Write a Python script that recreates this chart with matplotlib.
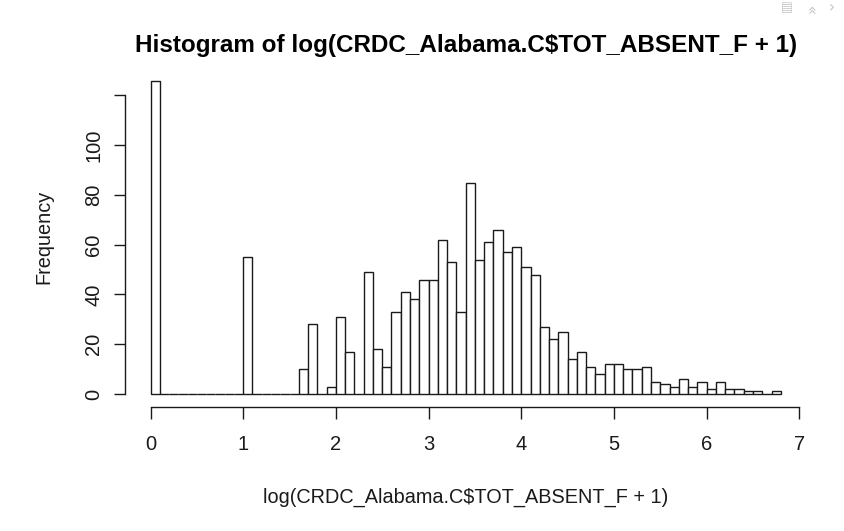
import matplotlib
matplotlib.use("Agg")
import matplotlib.pyplot as plt
import numpy as np

# histogram breaks (width 0.1) and counts
bin_start = 0.0
bin_width = 0.1
counts = [126, 0, 0, 0, 0, 0, 0, 0, 0, 0,
          55, 0, 0, 0, 0, 0, 10, 28, 0, 3,
          31, 17, 0, 49, 18, 11, 33, 41, 38, 46,
          46, 62, 53, 33, 85, 54, 61, 66, 57, 59,
          51, 48, 27, 22, 25, 14, 17, 11, 8, 12,
          12, 10, 10, 11, 5, 4, 3, 6, 3, 5,
          2, 5, 2, 2, 1, 1, 0, 1]
x_ticks = [0, 1, 2, 3, 4, 5, 6, 7]
y_ticks = [0, 20, 40, 60, 80, 100, 120]
y_labels = ["0", "20", "40", "60", "80", "100", ""]

title = "Histogram of log(CRDC_Alabama.C$TOT_ABSENT_F + 1)"
xlab = "log(CRDC_Alabama.C$TOT_ABSENT_F + 1)"
ylab = "Frequency"

plt.rcParams['font.family'] = ['Liberation Sans', 'DejaVu Sans']

W, H = 844, 531
fig = plt.figure(figsize=(W / 100, H / 100), dpi=100)
fig.patch.set_facecolor("white")

# plot region in pixels (R style, 4% padding on both axes)
px_l, px_r, px_t, px_b = 125.3, 806.0, 68.0, 406.5
ax = fig.add_axes([px_l / W, 1 - px_b / H, (px_r - px_l) / W, (px_b - px_t) / H])

lefts = bin_start + bin_width * np.arange(len(counts))
ax.bar(lefts, counts, width=bin_width, align="edge", facecolor="white",
       edgecolor="#1a1a1a", linewidth=1.0)

xmax = lefts[-1] + bin_width
ymax = max(counts)
ax.set_xlim(0 - 0.04 * xmax, xmax * 1.04)
ax.set_ylim(0 - 0.04 * ymax, ymax * 1.04)

for s in ["top", "right"]:
    ax.spines[s].set_visible(False)
ax.spines["bottom"].set_bounds(x_ticks[0], x_ticks[-1])
ax.spines["left"].set_bounds(y_ticks[0], y_ticks[-1])
for s in ["bottom", "left"]:
    ax.spines[s].set_color("#1a1a1a")
    ax.spines[s].set_linewidth(1.0)

ax.set_xticks(x_ticks)
ax.set_xticklabels([str(t) for t in x_ticks])
ax.set_yticks(y_ticks)
ax.set_yticklabels(y_labels, rotation=90, va="center")
ax.tick_params(axis="x", direction="out", length=8.8, width=1.0, color="#1a1a1a",
               labelsize=14.5, pad=11.5, labelcolor="#1a1a1a")
ax.tick_params(axis="y", direction="out", length=8.0, width=1.0, color="#1a1a1a",
               labelsize=14.5, pad=8.0, labelcolor="#1a1a1a")

# titles as in R's hist()
fig.text((px_l + px_r) / 2 / W, 1 - 52 / H, title, ha="center", va="baseline",
         fontsize=17.5, fontweight="bold", color="black")
fig.text((px_l + px_r) / 2 / W, 1 - 503 / H, xlab, ha="center", va="baseline",
         fontsize=14.3, color="#1a1a1a")
fig.text(43.5 / W, 1 - 236.5 / H, ylab, ha="center", va="center", rotation=90,
         fontsize=14.3, color="#1a1a1a")

# viewer icons in the top right corner
fig.text(787 / W, 1 - 8 / H, "\u25a4", ha="center", va="center", fontsize=9,
         color="#c4c4c4", family="DejaVu Sans")
fig.text(812 / W, 1 - 8 / H, "\u00bb", ha="center", va="center", fontsize=11,
         color="#c4c4c4", rotation=90, family="DejaVu Sans")
fig.text(832 / W, 1 - 8 / H, "\u203a", ha="center", va="center", fontsize=11,
         color="#c4c4c4", family="DejaVu Sans")

fig.savefig("out.png", dpi=100)
